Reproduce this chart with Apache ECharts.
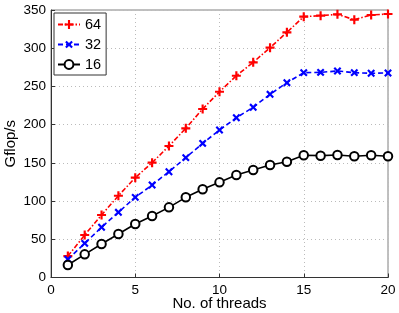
<!DOCTYPE html>
<html>
<head>
<meta charset="utf-8">
<script src="https://cdn.jsdelivr.net/npm/echarts@6/dist/echarts.min.js"></script>
<style>html,body{margin:0;padding:0;background:#fff}#c{width:399px;height:313px}</style>
</head>
<body>
<div id="c"></div>
<script>
var threads = [1,2,3,4,5,6,7,8,9,10,11,12,13,14,15,16,17,18,19,20];
var s64 = [28,55.6,81.8,107,130.6,150.2,172,195.2,220.5,243,264,281.5,300.7,320.8,341.3,342.6,344.3,337.3,343.5,344.8];
var s32 = [23.8,44.7,65.7,85.3,104.9,121,138.4,156.8,175.5,193,209,222.7,239.7,254.9,268,268.4,270.2,268,267.2,267.6];
var s16 = [16.4,30.3,43.8,56.9,70,80.5,91.8,104.9,115.4,124.5,134,140.6,147.2,151.5,159.9,159.4,160.3,158.6,159.9,158.6];
var names = ['64','32','16'];
var xTicks = [0,5,10,15,20];
var yTicks = [0,50,100,150,200,250,300,350];

function pairs(v){ return threads.map(function(t,i){ return [t, v[i]]; }); }
var plus = 'path://M3.8,0H6.2V3.8H10V6.2H6.2V10H3.8V6.2H0V3.8H3.8Z';
var font = 'Liberation Sans, Arial, Helvetica, sans-serif';

var chart = echarts.init(document.getElementById('c'), null, {renderer:'canvas'});
chart.setOption({
  animation: false,
  backgroundColor: '#fff',
  grid: {left: 51, right: 11, top: 10, bottom: 35.5, show: true, borderColor: '#808080', borderWidth: 1,
         containLabel: false, outerBoundsMode: 'none'},
  legend: {
    left: 54, top: 13, orient: 'vertical',
    data: names,
    backgroundColor: '#fff', borderColor: '#333', borderWidth: 1,
    padding: [4, 5, 3, 3],
    itemGap: 5, itemWidth: 22, itemHeight: 11,
    textStyle: {fontFamily: font, fontSize: 14.5, color: '#000', padding: [0,0,0,0]}
  },
  xAxis: {
    type: 'value', min: xTicks[0], max: xTicks[xTicks.length-1], interval: 5,
    name: 'No. of threads', nameLocation: 'middle', nameGap: 19, nameMoveOverlap: false,
    nameTextStyle: {fontFamily: font, fontSize: 15, color: '#000'},
    axisLine: {show: true, lineStyle: {color: '#333', width: 1}},
    axisTick: {show: true, inside: true, length: 4, lineStyle: {color: '#333'}},
    axisLabel: {fontFamily: font, fontSize: 13.5, color: '#000', margin: 6},
    splitLine: {show: true, lineStyle: {type: [1,3], color: '#bbb', width: 1}}
  },
  yAxis: {
    type: 'value', min: yTicks[0], max: yTicks[yTicks.length-1], interval: 50,
    name: 'Gflop/s', nameLocation: 'middle', nameGap: 33, nameMoveOverlap: false,
    nameTextStyle: {fontFamily: font, fontSize: 15, color: '#000'},
    axisLine: {show: true, lineStyle: {color: '#333', width: 1}},
    axisTick: {show: true, inside: true, length: 4, lineStyle: {color: '#333'}},
    axisLabel: {fontFamily: font, fontSize: 13.5, color: '#000', margin: 5},
    splitLine: {show: true, lineStyle: {type: [1,3], color: '#bbb', width: 1}}
  },
  series: [
    {name: names[0], type: 'line', data: pairs(s64), symbol: plus, symbolSize: 9,
     lineStyle: {color: '#ff0000', width: 1.6, type: [5,2,1.5,2]},
     itemStyle: {color: '#ff0000', borderWidth: 0}},
    {name: names[1], type: 'line', data: pairs(s32), symbol: plus, symbolSize: 9, symbolRotate: 45,
     lineStyle: {color: '#0000ff', width: 1.6, type: [5,3]},
     itemStyle: {color: '#0000ff', borderWidth: 0}},
    {name: names[2], type: 'line', data: pairs(s16), symbol: 'emptyCircle', symbolSize: 8.5,
     lineStyle: {color: '#000', width: 1.6, type: 'solid'},
     itemStyle: {color: '#000', borderColor: '#000', borderWidth: 1.5}}
  ]
});
</script>
</body>
</html>
